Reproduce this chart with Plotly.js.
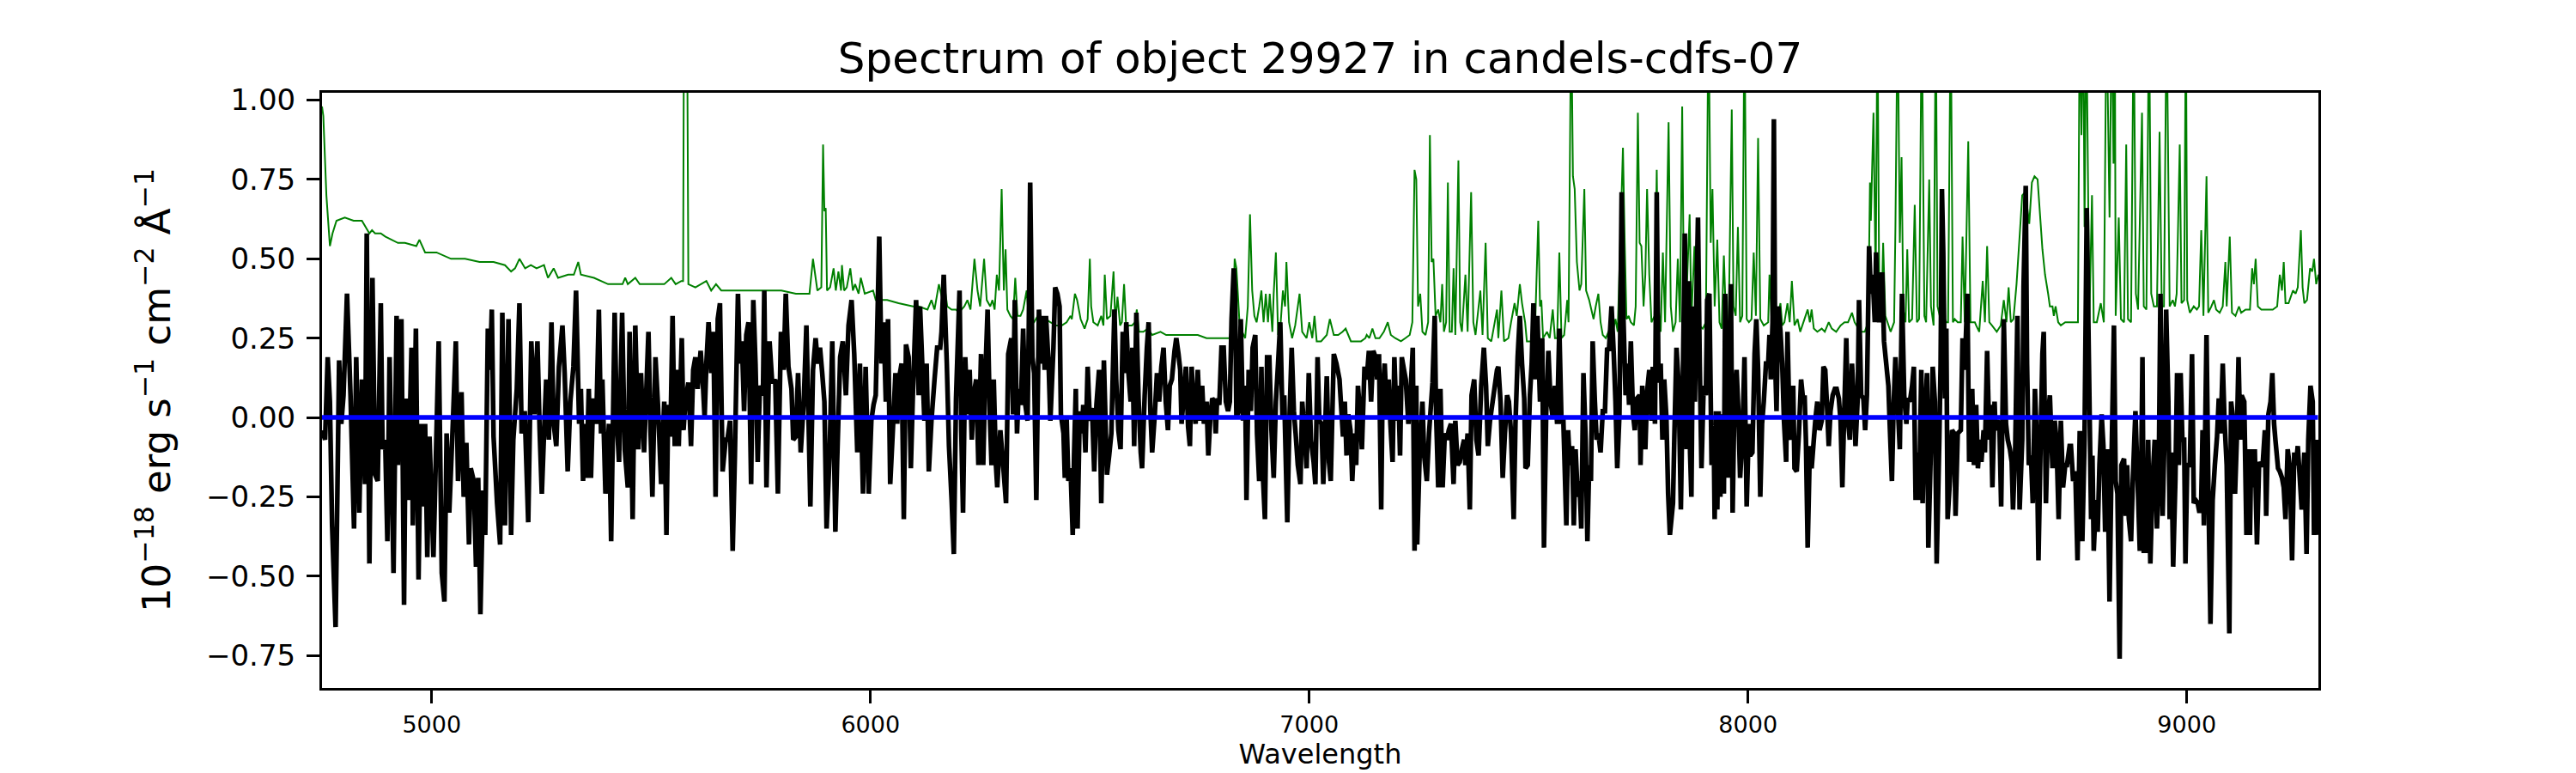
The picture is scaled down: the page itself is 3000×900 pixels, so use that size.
<!DOCTYPE html>
<html>
<head>
<meta charset="utf-8">
<script src="https://cdn.plot.ly/plotly-3.0.1.min.js"></script>
<style>body{margin:0;background:#fff}</style>
</head>
<body>
<div id="plot" style="width:3000px;height:900px"></div>
<script>
// object flux, [wavelength, value] in 1e-18 erg/s/cm2/A
let flux = [
[4750,-0.04],[4757,-0.07],[4763,0.19],[4768,0.05],[4773,-0.34],[4781,-0.66],[4789,0.18],[4794,-0.02],[4799,0.07],[4807,0.39],[4815,0.07],[4823,-0.35],[4828,0.19],[4835,-0.30],[4841,0.12],[4848,-0.21],[4852,0.58],[4858,-0.46],[4865,0.44],[4871,-0.18],[4877,-0.20],[4884,0.36],[4888,-0.10],[4894,-0.07],[4899,-0.39],[4904,0.19],[4913,-0.49],[4920,0.32],[4923,-0.15],[4931,0.31],[4937,-0.59],[4941,0.06],[4946,-0.26],[4954,0.22],[4957,-0.34],[4964,0.28],[4970,-0.51],[4975,-0.02],[4978,-0.28],[4985,-0.02],[4990,-0.44],[4995,-0.06],[5004,-0.44],[5016,0.24],[5023,-0.49],[5029,-0.58],[5034,-0.05],[5040,-0.30],[5049,0.01],[5055,0.24],[5060,-0.20],[5068,0.08],[5073,-0.25],[5079,-0.08],[5085,-0.40],[5089,-0.16],[5096,-0.20],[5101,-0.47],[5106,-0.19],[5111,-0.62],[5117,-0.23],[5122,-0.37],[5128,0.28],[5133,0.15],[5137,0.34],[5141,-0.06],[5149,-0.27],[5156,-0.40],[5161,0.33],[5167,-0.34],[5175,0.31],[5181,-0.37],[5186,-0.07],[5194,0.09],[5200,0.36],[5205,-0.05],[5212,0.02],[5220,-0.33],[5227,0.24],[5234,0.01],[5241,0.24],[5246,-0.04],[5251,-0.24],[5256,-0.05],[5261,0.12],[5267,-0.07],[5273,0.30],[5278,-0.02],[5284,-0.09],[5290,0.16],[5298,0.29],[5303,0.14],[5310,-0.17],[5316,0.05],[5323,0.16],[5329,0.40],[5336,-0.02],[5340,0.09],[5345,-0.20],[5349,-0.02],[5353,-0.19],[5358,0.09],[5363,-0.19],[5368,0.06],[5375,-0.02],[5381,0.34],[5386,-0.05],[5389,0.12],[5396,-0.24],[5404,-0.02],[5409,-0.39],[5417,0.33],[5422,-0.02],[5427,-0.14],[5434,0.33],[5440,-0.10],[5447,-0.22],[5451,0.27],[5458,-0.32],[5464,0.29],[5471,-0.10],[5477,0.14],[5484,-0.11],[5494,0.27],[5499,-0.05],[5503,-0.25],[5510,0.19],[5516,0.03],[5523,-0.21],
[5530,0.05],[5535,-0.37],[5539,0.04],[5544,-0.06],[5549,0.32],[5554,-0.09],[5559,0.15],[5563,-0.09],[5570,0.25],[5574,-0.04],[5578,0.05],[5585,0.11],[5591,-0.09],[5596,0.15],[5601,0.19],[5606,0.09],[5613,0.21],[5618,0.11],[5622,0.00],[5626,0.17],[5631,0.30],[5637,0.14],[5642,0.27],[5647,-0.25],[5652,0.31],[5657,0.36],[5663,-0.17],[5670,-0.07],[5674,-0.07],[5680,-0.01],[5686,-0.42],[5691,-0.12],[5698,0.39],[5702,0.17],[5707,0.24],[5712,0.02],[5717,0.26],[5722,0.30],[5728,-0.21],[5733,0.37],[5738,0.17],[5743,-0.14],[5748,0.10],[5755,0.07],[5758,0.40],[5763,-0.22],[5770,0.24],[5776,0.11],[5783,0.12],[5789,-0.24],[5796,0.27],[5802,0.15],[5807,0.39],[5813,0.16],[5820,0.09],[5824,-0.07],[5830,-0.06],[5835,0.14],[5841,-0.11],[5848,0.05],[5854,0.29],[5859,-0.01],[5863,-0.28],[5869,0.15],[5875,0.25],[5880,0.17],[5885,0.22],[5890,0.14],[5895,0.05],[5900,-0.35],[5907,-0.11],[5913,0.24],[5920,-0.36],[5924,-0.14],[5931,0.19],[5937,0.24],[5944,0.07],[5950,0.29],[5957,0.37],[5963,0.20],[5970,-0.11],[5976,0.17],[5983,-0.24],[5989,0.16],[5996,-0.24],[6002,-0.01],[6007,0.04],[6012,0.07],[6015,0.25],[6020,0.57],[6025,0.17],[6030,0.30],[6035,0.05],[6040,0.31],[6045,-0.21],[6051,-0.04],[6057,0.14],[6061,-0.02],[6066,0.13],[6071,0.17],[6076,-0.32],[6081,0.23],[6087,0.19],[6092,-0.16],[6097,0.09],[6104,0.37],[6110,0.07],[6113,0.35],[6118,0.17],[6123,-0.01],[6128,0.17],[6133,-0.17],[6139,-0.01],[6146,0.12],[6152,0.22],[6159,0.22],[6162,0.27],[6167,0.45],[6174,0.17],[6179,-0.09],[6185,-0.26],[6190,-0.43],[6195,0.06],[6203,0.40],[6207,-0.04],[6211,-0.30],[6216,0.19],[6221,0.01],[6226,0.15],[6231,-0.07],[6235,0.07],[6241,0.12],[6246,-0.15],[6252,0.20],[6257,-0.15],[6261,0.10],[6267,0.34],[6272,0.01],[6276,-0.15],[6281,0.12],[6286,-0.15],[6289,-0.22],[6296,-0.04],
[6303,-0.16],[6309,-0.27],[6314,0.20],[6321,0.25],[6325,0.01],[6329,0.37],[6334,-0.05],[6338,0.09],[6343,0.04],[6348,0.28],[6353,0.04],[6358,-0.01],[6361,0.30],[6364,0.74],[6369,0.19],[6373,0.14],[6378,-0.26],[6384,0.34],[6389,0.17],[6393,0.32],[6397,0.15],[6400,0.32],[6406,0.17],[6410,-0.01],[6417,0.22],[6421,0.41],[6426,0.39],[6431,0.35],[6434,0.01],[6440,-0.05],[6443,-0.19],[6447,0.00],[6451,-0.20],[6456,-0.16],[6461,-0.37],[6464,-0.12],[6468,0.09],[6472,-0.35],[6477,0.02],[6482,-0.05],[6485,0.04],[6490,-0.11],[6495,0.16],[6500,-0.01],[6505,0.03],[6510,-0.17],[6515,0.04],[6521,0.15],[6526,-0.27],[6532,0.18],[6539,-0.18],[6544,-0.12],[6549,-0.05],[6556,0.34],[6560,0.12],[6565,-0.04],[6570,-0.10],[6575,0.27],[6580,0.14],[6583,0.30],[6588,0.14],[6593,0.05],[6597,0.22],[6601,-0.09],[6606,0.33],[6611,0.06],[6616,-0.11],[6619,-0.16],[6625,0.07],[6630,0.22],[6634,0.30],[6638,0.02],[6642,-0.11],[6648,0.01],[6653,0.14],[6658,0.05],[6663,0.16],[6668,0.22],[6673,0.05],[6678,-0.04],[6682,0.10],[6687,0.12],[6693,0.21],[6697,0.25],[6702,0.20],[6706,0.15],[6709,-0.02],[6713,0.05],[6719,0.16],[6724,-0.03],[6728,-0.09],[6732,0.16],[6736,0.05],[6741,-0.02],[6746,0.15],[6751,-0.01],[6756,0.10],[6760,-0.02],[6766,0.05],[6770,-0.12],[6775,0.01],[6779,0.06],[6784,0.05],[6787,-0.05],[6790,0.06],[6795,0.04],[6800,0.22],[6805,0.22],[6810,0.05],[6815,0.02],[6819,0.05],[6823,0.31],[6828,0.47],[6831,0.39],[6834,0.00],[6839,0.02],[6844,0.31],[6849,-0.01],[6854,0.10],[6857,-0.26],[6862,0.15],[6867,0.02],[6871,0.22],[6877,0.26],[6881,-0.05],[6886,-0.20],[6891,0.16],[6895,-0.20],[6899,-0.32],[6904,0.19],[6909,0.19],[6914,-0.04],[6919,-0.19],[6924,0.05],[6929,0.17],[6934,0.30],[6939,0.00],[6943,0.07],[6950,-0.33],[6955,0.00],[6960,0.22],[6965,0.02],[6969,-0.05],[6974,-0.15],[6980,-0.21],[6984,0.05],[6989,-0.04],[6994,-0.16],[6999,0.14],[7004,-0.07],[7010,-0.14],[7014,-0.21],[7019,0.19],[7023,-0.01],[7028,-0.02],[7032,-0.21],[7036,-0.05],[7040,0.13],[7045,-0.14],[7049,-0.20],[7056,0.20],[7062,0.17],[7069,0.12],
[7072,0.05],[7077,-0.06],[7081,0.05],[7085,-0.12],[7089,0.01],[7094,-0.04],[7098,-0.20],[7103,-0.05],[7107,-0.15],[7111,0.10],[7116,0.01],[7120,-0.10],[7126,0.16],[7131,0.12],[7136,0.21],[7141,0.05],[7146,0.21],[7151,0.19],[7155,0.12],[7159,0.20],[7164,-0.29],[7167,0.07],[7172,0.17],[7177,0.00],[7181,0.12],[7185,-0.02],[7190,-0.14],[7194,0.19],[7199,-0.01],[7203,0.10],[7207,-0.12],[7211,0.19],[7216,0.15],[7220,0.12],[7226,-0.02],[7231,0.08],[7236,0.22],[7240,-0.42],[7244,0.10],[7246,-0.40],[7252,-0.10],[7258,0.05],[7262,-0.12],[7268,-0.20],[7273,-0.05],[7276,0.01],[7281,0.11],[7286,0.32],[7289,0.02],[7294,-0.22],[7299,0.09],[7304,-0.22],[7309,-0.05],[7314,-0.07],[7318,-0.04],[7323,-0.02],[7329,-0.21],[7333,-0.01],[7338,-0.15],[7343,-0.14],[7348,-0.10],[7353,-0.07],[7356,-0.15],[7361,-0.05],[7366,-0.29],[7370,0.07],[7376,0.12],[7381,-0.07],[7386,-0.12],[7392,0.10],[7398,0.22],[7403,0.10],[7407,-0.09],[7412,-0.01],[7418,0.05],[7423,0.10],[7428,0.15],[7431,0.16],[7436,0.05],[7441,-0.19],[7446,-0.05],[7451,0.07],[7455,0.05],[7460,-0.05],[7466,-0.32],[7470,-0.02],[7475,0.19],[7480,0.32],[7485,0.17],[7490,0.06],[7493,-0.16],[7498,-0.15],[7503,0.07],[7507,0.17],[7511,0.36],[7516,0.12],[7520,0.32],[7526,0.05],[7531,0.25],[7535,-0.41],[7540,0.01],[7545,0.21],[7550,0.05],[7555,0.00],[7560,0.10],[7565,-0.02],[7570,0.28],[7575,-0.02],[7579,0.00],[7586,-0.34],[7590,-0.04],[7594,-0.15],[7599,-0.09],[7603,-0.34],[7607,-0.10],[7612,-0.25],[7616,-0.20],[7620,-0.35],[7625,0.14],[7630,-0.07],[7634,-0.39],[7638,-0.15],[7642,-0.20],[7646,0.24],[7651,0.05],[7655,-0.07],[7659,-0.05],[7664,-0.11],[7669,0.02],[7674,0.02],[7679,0.22],[7683,0.21],[7689,0.35],[7694,0.20],[7698,0.05],[7702,-0.16],[7707,0.01],[7712,0.71],[7716,0.32],[7721,0.07],[7725,0.17],[7729,0.04],[7733,0.24],[7738,0.01],[7742,-0.04],[7747,0.06],[7753,0.07],[7755,-0.15],[7759,0.10],[7762,0.00],[7766,-0.10],[7770,0.08],[7775,0.15],[7780,-0.01],[7783,0.16],[7788,-0.02],[7792,0.71],[7796,0.11],[7801,0.17],[7805,-0.07],[7809,0.12],[7814,0.00],[7818,-0.24],[7822,-0.37],[7829,-0.27],[7832,-0.07],[7837,0.22],[7842,0.10],
[7847,-0.29],[7852,0.17],[7856,0.58],[7860,-0.10],[7865,0.43],[7868,-0.11],[7871,-0.25],[7875,0.35],[7879,0.05],[7882,0.34],[7886,0.63],[7890,0.17],[7894,-0.16],[7899,0.10],[7904,0.07],[7907,0.37],[7912,0.39],[7917,-0.15],[7922,-0.07],[7924,-0.32],[7927,0.02],[7930,-0.29],[7933,0.02],[7937,-0.25],[7941,0.01],[7945,-0.24],[7948,0.39],[7953,0.05],[7956,-0.19],[7961,0.42],[7965,-0.30],[7969,0.05],[7974,0.15],[7978,0.02],[7982,-0.19],[7987,-0.07],[7992,0.19],[7997,-0.28],[8002,-0.02],[8005,-0.12],[8010,-0.11],[8015,0.20],[8019,0.31],[8023,0.15],[8028,-0.25],[8032,-0.02],[8036,0.05],[8041,0.17],[8046,0.17],[8049,0.26],[8052,0.12],[8056,0.30],[8059,0.94],[8062,0.17],[8065,0.02],[8069,0.35],[8074,0.27],[8078,0.17],[8082,-0.01],[8087,-0.14],[8090,0.27],[8095,-0.05],[8098,-0.07],[8103,0.10],[8106,-0.16],[8111,-0.17],[8116,-0.05],[8121,0.12],[8126,0.05],[8129,0.07],[8132,-0.07],[8136,-0.41],[8141,-0.09],[8145,-0.16],[8150,-0.07],[8154,0.00],[8158,0.05],[8163,-0.04],[8168,-0.01],[8172,0.16],[8176,0.15],[8180,0.04],[8184,-0.09],[8188,0.02],[8193,0.07],[8198,0.09],[8202,0.09],[8207,0.06],[8211,-0.01],[8215,-0.22],[8219,0.00],[8224,0.25],[8228,-0.01],[8232,-0.07],[8237,0.17],[8241,0.06],[8245,-0.09],[8250,0.06],[8253,0.37],[8258,0.07],[8263,0.06],[8267,-0.04],[8271,0.07],[8276,0.54],[8280,0.39],[8284,0.45],[8289,0.30],[8292,0.52],[8295,0.35],[8299,0.30],[8304,0.45],[8306,0.45],[8310,0.24],[8315,0.17],[8320,0.10],[8323,-0.02],[8328,-0.20],[8332,0.04],[8336,0.19],[8341,0.05],[8346,-0.10],[8351,0.39],[8356,0.07],[8361,-0.02],[8364,0.06],[8369,0.05],[8374,0.10],[8378,0.16],[8382,-0.26],[8387,-0.11],[8390,-0.26],[8395,0.15],[8398,-0.27],[8403,0.01],[8408,0.14],[8411,-0.41],[8416,-0.14],[8421,0.16],[8426,0.05],[8430,-0.46],[8436,-0.07],[8439,0.17],[8442,0.72],[8445,0.52],[8449,0.06],[8452,0.28],[8455,-0.32],[8460,-0.20],[8465,-0.04],[8470,-0.05],[8473,-0.31],[8478,-0.05],[8485,-0.04],[8489,0.25],[8494,0.15],[8500,0.39],[8504,-0.14],[8507,-0.07],[8511,0.09],[8515,-0.15],[8520,0.04],[8524,-0.16],[8528,-0.07],[8532,-0.14],[8537,-0.04],
[8540,-0.11],[8545,0.21],[8550,-0.07],[8553,0.04],[8557,-0.22],[8562,0.05],[8564,-0.04],[8568,-0.01],[8573,-0.02],[8577,-0.28],[8583,0.31],[8588,-0.02],[8592,-0.07],[8597,-0.10],[8601,-0.14],[8604,-0.29],[8609,-0.10],[8614,0.32],[8619,-0.29],[8625,-0.07],[8628,0.41],[8633,0.73],[8636,0.17],[8640,-0.15],[8645,-0.12],[8649,-0.27],[8654,0.09],[8658,-0.07],[8662,-0.45],[8667,-0.07],[8671,0.20],[8674,0.27],[8679,-0.27],[8684,0.01],[8688,0.07],[8694,-0.16],[8699,-0.01],[8703,-0.07],[8708,-0.32],[8713,-0.01],[8718,-0.22],[8723,-0.15],[8727,-0.15],[8733,-0.09],[8736,-0.09],[8741,-0.20],[8746,-0.17],[8751,-0.45],[8756,-0.05],[8759,-0.05],[8762,-0.39],[8767,-0.07],[8772,0.66],[8777,0.17],[8782,-0.32],[8785,-0.12],[8788,-0.42],[8793,-0.26],[8797,-0.36],[8801,-0.15],[8806,0.01],[8810,-0.09],[8814,-0.36],[8819,-0.10],[8824,-0.58],[8829,-0.10],[8834,0.29],[8838,-0.20],[8842,-0.24],[8847,-0.76],[8851,-0.15],[8857,-0.13],[8861,-0.31],[8864,-0.15],[8868,-0.32],[8873,-0.39],[8877,-0.20],[8883,0.02],[8888,-0.20],[8893,-0.42],[8896,-0.20],[8899,0.19],[8902,-0.42],[8908,-0.42],[8912,-0.07],[8917,-0.46],[8922,-0.20],[8927,-0.07],[8932,-0.35],[8936,-0.20],[8940,0.39],[8945,-0.31],[8949,-0.07],[8953,0.34],[8958,0.05],[8961,-0.32],[8965,-0.11],[8969,-0.47],[8974,-0.20],[8978,0.14],[8982,-0.15],[8986,0.14],[8990,-0.07],[8994,-0.07],[8997,-0.46],[9001,-0.15],[9007,-0.15],[9012,0.20],[9016,-0.27],[9020,-0.26],[9025,-0.27],[9029,-0.30],[9033,-0.26],[9036,-0.04],[9039,-0.34],[9045,0.26],[9049,-0.20],[9054,-0.65],[9059,-0.26],[9064,-0.15],[9069,-0.06],[9073,0.06],[9077,-0.05],[9082,0.17],[9086,-0.01],[9091,-0.15],[9097,-0.68],[9101,0.05],[9106,-0.01],[9110,-0.24],[9114,-0.07],[9118,0.19],[9122,-0.07],[9125,0.07],[9131,0.05],[9136,-0.37],[9140,-0.10],[9144,-0.37],[9147,-0.10],[9150,-0.22],[9155,-0.10],[9160,-0.40],[9165,-0.14],[9168,-0.15],[9173,-0.15],[9178,-0.04],[9181,-0.31],[9186,0.01],[9191,0.05],[9195,0.14],[9199,-0.02],[9202,-0.07],[9208,-0.16],[9212,-0.17],[9217,-0.19],[9221,-0.22],[9225,-0.32],[9230,-0.10],[9235,-0.16],[9240,-0.45],[9245,-0.11],[9249,-0.15],[9253,-0.09],[9258,-0.20],[9262,-0.29],[9268,-0.11],[9273,-0.43],[9277,-0.07],[9282,0.10],[9287,0.05],[9290,-0.37],[9295,-0.07],[9299,-0.37]
];

// noise (sigma) spectrum, same units; sky lines run off the top
let noise = [
[4750,0.98],[4753,0.95],[4760,0.70],[4768,0.54],[4774,0.58],[4783,0.62],[4802,0.63],[4822,0.62],[4841,0.62],[4858,0.58],[4864,0.59],[4871,0.58],[4884,0.58],[4894,0.57],[4923,0.55],[4939,0.55],[4965,0.54],[4972,0.56],[4985,0.52],[5011,0.52],[5044,0.50],[5076,0.50],[5109,0.49],[5141,0.49],[5167,0.48],[5181,0.46],[5190,0.47],[5200,0.50],[5213,0.47],[5226,0.48],[5239,0.47],[5256,0.48],[5265,0.44],[5278,0.47],[5288,0.44],[5311,0.45],[5324,0.45],[5334,0.49],[5340,0.45],[5370,0.44],[5402,0.42],[5435,0.42],[5441,0.44],[5447,0.42],[5464,0.44],[5474,0.42],[5500,0.42],[5530,0.42],
[5546,0.44],[5556,0.42],[5569,0.43],[5573,0.43],[5575,1.30],[5582,1.30],[5585,0.42],[5601,0.41],[5626,0.43],[5637,0.40],[5648,0.42],[5660,0.40],[5686,0.40],[5719,0.40],[5751,0.40],[5770,0.40],[5797,0.40],[5830,0.39],[5861,0.39],[5869,0.50],[5879,0.40],[5888,0.41],[5892,0.86],[5895,0.65],[5898,0.66],[5901,0.40],[5908,0.41],[5916,0.47],[5921,0.40],[5927,0.46],[5933,0.40],[5935,0.48],[5940,0.40],[5946,0.41],[5954,0.47],[5960,0.40],[5965,0.42],[5973,0.39],[5978,0.44],[5987,0.39],[6006,0.40],[6012,0.37],[6038,0.37],[6064,0.36],[6097,0.35],[6110,0.35],[6130,0.34],[6139,0.37],[6146,0.34],[6156,0.42],[6164,0.37],[6170,0.40],[6175,0.35],[6185,0.34],[6195,0.34],[6201,0.33],[6214,0.35],[6221,0.37],[6228,0.34],[6237,0.50],[6244,0.40],[6250,0.35],[6259,0.50],[6265,0.37],[6273,0.35],[6278,0.37],[6283,0.34],[6288,0.45],[6293,0.40],[6299,0.72],[6304,0.40],[6308,0.53],[6312,0.34],
[6319,0.32],[6325,0.31],[6330,0.44],[6335,0.32],[6342,0.32],[6348,0.34],[6356,0.40],[6361,0.31],[6373,0.30],[6381,0.32],[6391,0.30],[6400,0.31],[6410,0.30],[6423,0.29],[6436,0.29],[6447,0.30],[6456,0.32],[6459,0.31],[6466,0.39],[6471,0.37],[6479,0.31],[6488,0.28],[6495,0.31],[6500,0.50],[6503,0.35],[6508,0.30],[6518,0.29],[6526,0.32],[6531,0.29],[6534,0.45],[6539,0.31],[6547,0.32],[6554,0.46],[6558,0.30],[6563,0.38],[6569,0.29],[6573,0.30],[6578,0.42],[6583,0.28],[6588,0.29],[6596,0.29],[6603,0.30],[6607,0.34],[6612,0.27],[6622,0.27],[6632,0.28],[6642,0.26],[6661,0.27],[6674,0.26],[6694,0.26],[6713,0.26],[6746,0.26],[6766,0.25],[6792,0.25],[6818,0.25],[6826,0.30],[6830,0.50],[6834,0.47],[6841,0.30],[6847,0.27],[6854,0.25],[6860,0.35],[6865,0.64],[6870,0.40],[6875,0.32],[6880,0.30],[6886,0.35],[6891,0.40],[6896,0.30],[6901,0.39],[6906,0.30],[6910,0.39],[6916,0.27],[6919,0.39],[6924,0.52],[6929,0.26],[6935,0.30],[6940,0.40],[6945,0.35],[6948,0.49],[6954,0.30],[6961,0.25],[6968,0.29],[6978,0.39],[6984,0.27],[6994,0.25],[7000,0.30],[7007,0.25],[7012,0.32],[7017,0.24],[7027,0.24],[7040,0.26],[7047,0.31],[7056,0.26],[7066,0.26],
[7076,0.27],[7083,0.28],[7089,0.26],[7095,0.24],[7108,0.24],[7118,0.24],[7128,0.25],[7131,0.26],[7137,0.25],[7144,0.28],[7151,0.25],[7160,0.25],[7170,0.27],[7179,0.30],[7186,0.26],[7196,0.25],[7209,0.24],[7219,0.25],[7229,0.26],[7235,0.30],[7240,0.78],[7244,0.75],[7248,0.35],[7253,0.39],[7258,0.27],[7265,0.26],[7271,0.30],[7275,0.89],[7279,0.49],[7283,0.50],[7288,0.32],[7294,0.34],[7299,0.30],[7303,0.42],[7307,0.27],[7312,0.30],[7316,0.74],[7320,0.27],[7325,0.27],[7329,0.47],[7333,0.26],[7340,0.81],[7344,0.30],[7348,0.27],[7356,0.45],[7361,0.27],[7369,0.71],[7374,0.30],[7379,0.26],[7390,0.40],[7395,0.26],[7402,0.55],[7407,0.25],[7415,0.24],[7428,0.34],[7431,0.25],[7438,0.40],[7444,0.24],[7454,0.25],[7460,0.30],[7468,0.36],[7473,0.32],[7480,0.42],[7485,0.36],[7492,0.30],[7496,0.24],[7505,0.24],[7514,0.25],[7522,0.62],[7526,0.35],[7529,0.37],[7533,0.25],[7542,0.27],[7548,0.25],[7555,0.34],[7560,0.25],[7565,0.25],[7570,0.52],[7575,0.25],[7581,0.26],[7588,0.37],[7591,0.30],[7597,1.30],[7601,0.76],[7605,0.72],[7610,0.49],[7616,0.40],[7620,0.42],[7627,0.72],[7631,0.40],[7638,0.37],[7643,0.34],[7648,0.31],[7653,0.35],[7659,0.39],[7664,0.30],[7669,0.26],[7676,0.25],[7682,0.27],[7692,0.27],[7698,0.31],[7703,0.27],[7715,0.85],[7719,0.55],[7723,0.31],[7728,0.32],[7733,0.30],[7740,0.29],[7744,0.35],[7749,0.96],[7753,0.55],[7757,0.54],[7762,0.35],[7766,0.45],[7770,0.72],[7775,0.45],[7780,0.30],[7787,0.32],[7792,0.78],[7796,0.35],[7801,0.27],[7806,0.52],[7811,0.30],[7819,0.93],[7824,0.35],[7829,0.27],[7835,0.30],[7840,0.50],[7845,0.30],[7850,0.98],
[7854,0.36],[7858,0.30],[7862,0.46],[7867,0.64],[7871,0.31],[7878,0.54],[7882,0.35],[7888,0.29],[7897,0.28],[7904,0.30],[7910,1.30],[7915,0.55],[7919,0.72],[7924,0.35],[7930,0.56],[7935,0.30],[7940,0.28],[7945,0.51],[7950,0.30],[7956,0.30],[7963,0.97],[7967,0.35],[7972,0.32],[7977,0.60],[7982,0.30],[7987,0.32],[7992,1.30],[7997,0.31],[8002,0.30],[8008,0.31],[8013,0.52],[8018,0.32],[8023,0.88],[8028,0.31],[8036,0.29],[8046,0.30],[8049,0.45],[8054,0.30],[8064,0.29],[8074,0.36],[8078,0.29],[8083,0.30],[8090,0.36],[8095,0.30],[8100,0.43],[8106,0.29],[8113,0.31],[8119,0.27],[8136,0.34],[8141,0.30],[8145,0.34],[8150,0.28],[8158,0.27],[8168,0.28],[8175,0.27],[8184,0.30],[8191,0.28],[8201,0.27],[8211,0.29],[8220,0.30],[8228,0.30],[8237,0.33],[8243,0.30],[8256,0.27],[8266,0.27],[8274,0.30],[8278,0.74],[8280,0.62],[8286,0.96],[8291,0.42],[8295,1.30],[8299,0.40],[8304,0.30],[8308,0.55],[8313,0.32],[8318,0.30],[8325,0.27],[8333,0.30],[8336,0.60],[8341,1.30],[8346,0.55],[8350,0.82],[8354,0.34],[8359,0.30],[8363,0.53],[8367,0.30],[8374,0.31],[8380,0.67],[8385,0.30],[8390,0.31],[8396,1.30],[8402,0.32],[8406,0.30],[8413,0.75],[8417,0.35],[8423,0.29],[8428,1.30],[8432,0.35],[8437,0.32],[8441,0.58],[8445,0.32],[8452,0.30],[8456,0.30],[8462,1.30],[8467,0.30],[8471,0.31],[8478,0.30],[8485,0.30],[8489,0.57],[8494,0.30],[8502,0.87],[8507,0.30],[8517,0.30],[8520,0.29],[8527,0.27],[8535,0.43],[8540,0.30],
[8545,0.54],[8550,0.30],[8556,0.29],[8567,0.27],[8576,0.29],[8583,0.37],[8589,0.30],[8594,0.41],[8599,0.30],[8605,0.31],[8612,0.42],[8619,0.57],[8625,0.70],[8632,0.71],[8641,0.61],[8647,0.74],[8653,0.76],[8660,0.75],[8664,0.67],[8671,0.53],[8677,0.45],[8684,0.39],[8688,0.35],[8694,0.35],[8697,0.32],[8701,0.35],[8707,0.30],[8713,0.29],[8723,0.30],[8733,0.30],[8744,0.30],[8752,0.30],[8756,1.30],[8760,0.89],[8764,1.30],[8767,0.60],[8771,1.30],[8778,0.31],[8784,0.70],[8788,0.30],[8795,0.30],[8804,0.36],[8811,0.30],[8817,1.30],[8824,0.63],[8829,1.30],[8833,0.80],[8836,1.30],[8838,0.32],[8845,0.63],[8850,0.31],[8857,0.30],[8862,0.86],[8866,0.31],[8873,0.30],[8879,1.30],[8884,0.39],[8889,0.34],[8898,0.96],[8902,0.35],[8908,0.34],[8914,1.30],[8919,0.39],[8925,0.35],[8932,0.35],[8938,0.90],[8943,0.35],[8948,0.35],[8954,1.30],[8961,0.35],[8968,0.37],[8973,0.35],[8977,0.39],[8984,0.86],[8988,0.36],[8994,0.37],[8998,1.30],[9001,0.37],[9007,0.33],[9016,0.35],[9023,0.34],[9028,0.35],[9033,0.59],[9038,0.32],[9045,0.76],[9049,0.33],[9056,0.35],[9062,0.37],[9067,0.34],[9075,0.33],[9082,0.35],[9088,0.49],[9091,0.35],[9098,0.57],[9103,0.33],[9111,0.32],[9119,0.35],[9124,0.33],[9134,0.34],[9144,0.34],[9149,0.47],[9153,0.42],[9157,0.50],[9162,0.35],[9170,0.34],[9183,0.34],[9196,0.34],[9206,0.35],[9212,0.45],[9217,0.40],[9221,0.49],[9225,0.36],[9232,0.36],[9242,0.40],[9248,0.39],[9253,0.41],[9260,0.59],[9264,0.41],[9268,0.36],[9274,0.37],[9281,0.47],[9286,0.46],[9290,0.50],[9295,0.42],[9300,0.45]
];

let xTicks = [5000, 6000, 7000, 8000, 9000];
let yTicks = [-0.75, -0.5, -0.25, 0, 0.25, 0.5, 0.75, 1.0];
let xRange = [4750, 9300];
let yRange = [-0.852, 1.023];

let font = 'DejaVu Sans, sans-serif';

function col(rows, i) {
    return rows.map(r => r[i]);
}

let fluxWave = col(flux, 0);
let fluxVal = col(flux, 1);
let zeroLevel = fluxWave.map(() => 0);

let data = [
    {
        x: col(noise, 0),
        y: col(noise, 1),
        type: 'scatter',
        mode: 'lines',
        line: {color: '#008000', width: 2, simplify: false},
        hoverinfo: 'skip'
    },
    {
        x: fluxWave,
        y: fluxVal,
        type: 'scatter',
        mode: 'lines',
        line: {color: '#000000', width: 5.5, simplify: false},
        hoverinfo: 'skip'
    },
    {
        x: fluxWave,
        y: zeroLevel,
        type: 'scatter',
        mode: 'lines',
        line: {color: '#0000ff', width: 5.5},
        hoverinfo: 'skip'
    }
];

let layout = {
    width: 3000,
    height: 900,
    showlegend: false,
    paper_bgcolor: '#ffffff',
    plot_bgcolor: '#ffffff',
    margin: {l: 375, r: 300, t: 108, b: 99, pad: 0},
    font: {family: font, color: '#000000'},
    title: {
        text: 'Spectrum of object 29927 in candels-cdfs-07',
        font: {family: font, size: 50, color: '#000000'},
        xref: 'paper',
        x: 0.5,
        yref: 'paper',
        y: 1,
        yanchor: 'bottom',
        pad: {b: 23}
    },
    xaxis: {
        range: xRange,
        tickmode: 'array',
        tickvals: xTicks,
        ticks: 'outside',
        ticklen: 15,
        tickwidth: 3,
        tickcolor: '#000000',
        tickfont: {family: font, size: 27},
        ticklabelstandoff: 2,
        showline: true,
        mirror: true,
        linewidth: 3,
        linecolor: '#000000',
        showgrid: false,
        zeroline: false,
        automargin: false,
        title: {
            text: 'Wavelength',
            font: {family: font, size: 32},
            standoff: 9
        }
    },
    yaxis: {
        range: yRange,
        tickmode: 'array',
        tickvals: yTicks,
        tickformat: '.2f',
        ticks: 'outside',
        ticklen: 15,
        tickwidth: 3,
        tickcolor: '#000000',
        tickfont: {family: font, size: 34},
        ticklabelstandoff: 6,
        showline: true,
        mirror: true,
        linewidth: 3,
        linecolor: '#000000',
        showgrid: false,
        zeroline: false,
        automargin: false,
        title: {
            text: '10<sup>\u221218</sup> erg s<sup>\u22121</sup> cm<sup>\u22122</sup> \u00c5<sup>\u22121</sup>',
            font: {family: font, size: 45},
            standoff: 28
        }
    }
};

Plotly.newPlot('plot', data, layout, {displayModeBar: false, staticPlot: true});
</script>
</body>
</html>
